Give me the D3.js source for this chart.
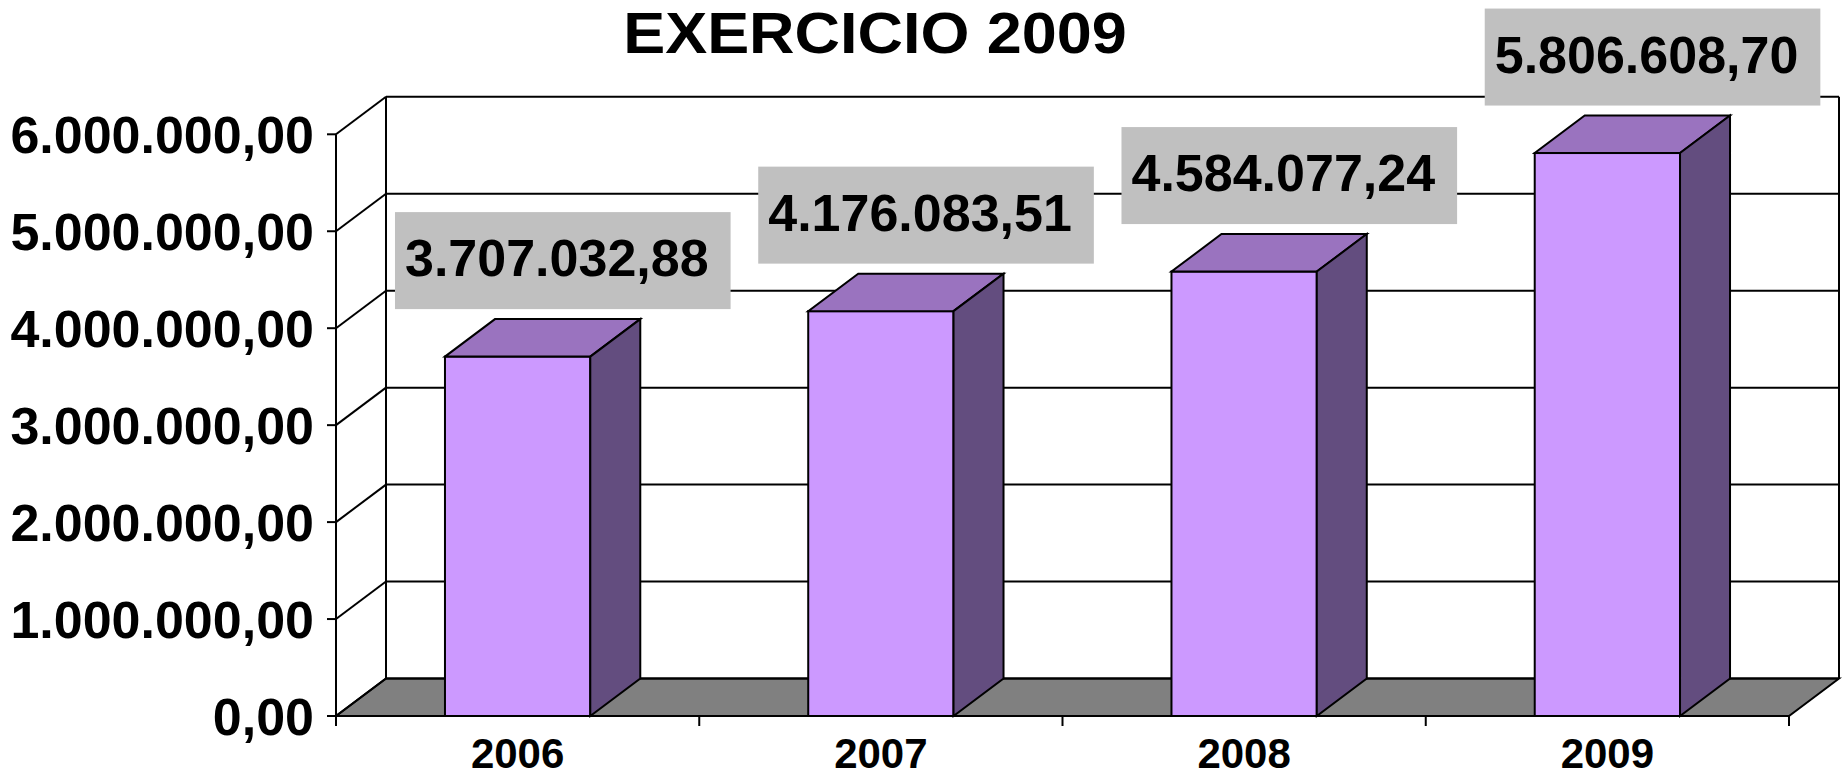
<!DOCTYPE html>
<html>
<head>
<meta charset="utf-8">
<script src="https://cdn.jsdelivr.net/npm/d3@7"></script>
<style>
  html, body { margin: 0; padding: 0; background: #fff; }
  svg { display: block; }
  text { font-family: "Liberation Sans", Arial, sans-serif; font-weight: bold; fill: #000; }
</style>
</head>
<body>
<svg id="chart" width="1848" height="778"></svg>
<script>
// ---- data ----
const title = "EXERCICIO 2009";
const categories = ["2006", "2007", "2008", "2009"];
const values = [3707032.88, 4176083.51, 4584077.24, 5806608.70];
const yTicks = [0, 1000000, 2000000, 3000000, 4000000, 5000000, 6000000];

(function () {
// ---- layout ----
const plotLeft = 336, plotRight = 1789, plotBottom = 716, plotTop = 134.3;
const dx = 50, dy = -37.5;           // 3D depth offset
const svg = d3.select("#chart");

const locale = d3.formatLocale({ decimal: ",", thousands: ".", grouping: [3], currency: ["", ""] });
const fmt = locale.format(",.2f");

const y = d3.scaleLinear().domain([0, 6000000]).range([plotBottom, plotTop]);
const x = d3.scaleBand().domain(categories).range([plotLeft, plotRight]).paddingInner(0.6).paddingOuter(0.3);
const step = x.step();
const bw = x.bandwidth();
const yMax = yTicks[yTicks.length - 1];

const lineW = 2;

// floor
const floorPts = [[plotLeft, plotBottom], [plotRight, plotBottom], [plotRight + dx, plotBottom + dy], [plotLeft + dx, plotBottom + dy]];
svg.append("polygon")
  .attr("points", floorPts.map(p => p.join(",")).join(" "))
  .attr("fill", "#808080").attr("stroke", "#000").attr("stroke-width", lineW).attr("stroke-linejoin", "miter");

const grid = svg.append("g").attr("stroke", "#000").attr("stroke-width", lineW).attr("fill", "none");
yTicks.forEach(t => {
  const yy = y(t);
  grid.append("line").attr("x1", plotLeft + dx).attr("x2", plotRight + dx).attr("y1", yy + dy).attr("y2", yy + dy);
  grid.append("line").attr("x1", plotLeft).attr("x2", plotLeft + dx).attr("y1", yy).attr("y2", yy + dy);
  grid.append("line").attr("x1", plotLeft - 9).attr("x2", plotLeft).attr("y1", yy).attr("y2", yy);
});
grid.append("line").attr("x1", plotLeft).attr("x2", plotLeft).attr("y1", y(0)).attr("y2", y(yMax));
grid.append("line").attr("x1", plotLeft + dx).attr("x2", plotLeft + dx).attr("y1", y(0) + dy).attr("y2", y(yMax) + dy);
grid.append("line").attr("x1", plotRight + dx).attr("x2", plotRight + dx).attr("y1", y(0) + dy).attr("y2", y(yMax) + dy);

// x axis ticks
d3.range(categories.length + 1).forEach(i => {
  const xx = plotLeft + i * step;
  grid.append("line").attr("x1", xx).attr("x2", xx).attr("y1", plotBottom).attr("y2", plotBottom + 10);
});

// y tick labels
svg.append("g").selectAll("text").data(yTicks).join("text")
  .attr("x", plotLeft - 22).attr("y", d => y(d)).attr("dy", "0.36em")
  .attr("text-anchor", "end").attr("font-size", 52)
  .text(d => fmt(d));

// category labels
svg.append("g").selectAll("text").data(categories).join("text")
  .attr("x", d => x(d) + bw / 2).attr("y", 768)
  .attr("text-anchor", "middle").attr("font-size", 42)
  .text(d => d);

// bars
const bars = svg.append("g").attr("stroke", "#000").attr("stroke-width", lineW).attr("stroke-linejoin", "miter");
categories.forEach((c, i) => {
  const x0 = x(c), x1 = x0 + bw, y0 = y(values[i]), y1 = y(0);
  const g = bars.append("g");
  g.append("rect").attr("x", x0).attr("y", y0).attr("width", bw).attr("height", y1 - y0).attr("fill", "#CC99FF");
  g.append("polygon").attr("fill", "#9A73BF")
    .attr("points", [[x0, y0], [x1, y0], [x1 + dx, y0 + dy], [x0 + dx, y0 + dy]].map(p => p.join(",")).join(" "));
  g.append("polygon").attr("fill", "#634D7F")
    .attr("points", [[x1, y0], [x1 + dx, y0 + dy], [x1 + dx, y1 + dy], [x1, y1]].map(p => p.join(",")).join(" "));
});

// data labels
const labels = svg.append("g");
categories.forEach((c, i) => {
  const bx = x(c) - 50;
  const bBottom = y(values[i]) + dy - 10;
  const g = labels.append("g");
  const rect = g.append("rect").attr("fill", "#C0C0C0");
  const t = g.append("text").attr("font-size", 52).attr("x", bx + 10).attr("y", bBottom - 33).text(fmt(values[i]));
  const tw = t.node().getComputedTextLength();
  rect.attr("x", bx).attr("y", bBottom - 97).attr("width", tw + 32).attr("height", 97);
});

// title
svg.append("text")
  .attr("transform", "translate(875,53) scale(1.085,1)")
  .attr("text-anchor", "middle").attr("font-size", 58)
  .text(title);
})();
</script>
</body>
</html>
